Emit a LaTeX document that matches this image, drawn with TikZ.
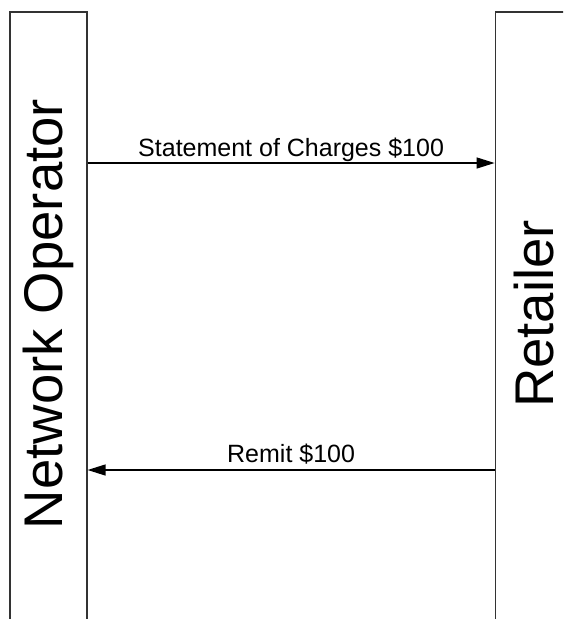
\documentclass[tikz,border=0pt]{standalone}
\usepackage{fontspec}
\setmainfont{Liberation Sans}
\usetikzlibrary{arrows.meta,positioning}
\tikzstyle{lifeline}=[
	draw=black!80,
	line width=1.2pt,
	minimum width=77pt,
	minimum height=620pt,
	inner sep=0pt
]
\tikzstyle{party}=[
	rotate=90,
	font=\fontsize{54.5}{60}\selectfont
]
\tikzstyle{msg}=[
	-{Triangle[length=18pt,width=11pt]},
	line width=1.3pt,
	draw=black
]
\tikzstyle{msglabel}=[
	anchor=base,
	font=\fontsize{25}{28}\selectfont
]

\begin{document}
\begin{tikzpicture}[x=1pt,y=-1pt]
\useasboundingbox (0,0) rectangle (563,619);
\clip (0,0) rectangle (563,619);
\node[lifeline] (op) at (48.5,322) {};
\node[lifeline, right=407pt of op] (ret) {};
\node[party] (oplabel) at ([yshift=8pt]op.center) {Network Operator};
\node[party] (retlabel) at ([yshift=8pt]ret.center) {Retailer};

\coordinate (m1) at (0,163);
\coordinate (m2) at (0,470);
\draw[msg] (op.east |- m1) -- node[msglabel, yshift=6.5pt] {Statement of Charges \$100} (ret.west |- m1);
\draw[msg] (ret.west |- m2) -- node[msglabel, yshift=8pt] {Remit \$100} (op.east |- m2);
\end{tikzpicture}
\end{document}
